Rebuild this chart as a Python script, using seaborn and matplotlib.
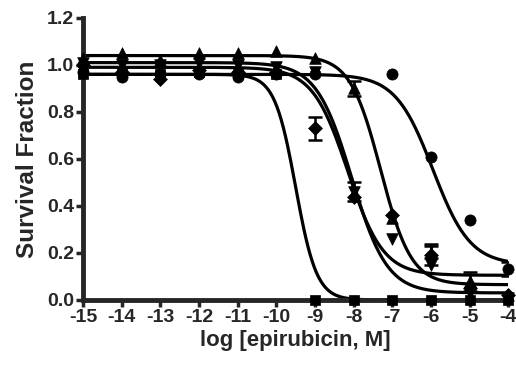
import numpy as np
import pandas as pd
import matplotlib
matplotlib.use("Agg")
import matplotlib.pyplot as plt
import seaborn as sns

# ---- data ----
log_dose = [-15, -14, -13, -12, -11, -10, -9, -8, -7, -6, -5, -4]
circle = [0.97, 0.95, 0.96, 0.96, 0.95, 0.96, 0.96, np.nan, 0.96, 0.61, 0.34, 0.13]
tri_up = [1.03, 1.05, 1.02, 1.05, 1.05, 1.06, 1.03, 0.90, 0.35, 0.20, 0.08, 0.02]
tri_down = [1.01, 1.00, 1.00, 1.01, 1.00, 0.99, 0.97, 0.46, 0.26, 0.15, 0.03, 0.01]
diamond = [1.00, 0.97, 0.94, 0.98, 0.97, 0.97, 0.73, 0.44, 0.36, 0.19, 0.05, 0.02]
square = [0.96, 0.97, 0.96, 0.97, 0.96, 0.96, 0.00, 0.00, 0.00, 0.00, 0.00, 0.00]

# 4-parameter logistic fit parameters: top, bottom, logIC50, hill
fit_names = ["circle", "tri_up", "tri_down", "diamond", "square"]
fit_top = [0.96, 1.04, 1.01, 0.99, 0.96]
fit_bottom = [0.15, 0.065, 0.03, 0.105, 0.0]
fit_logic50 = [-5.95, -7.3, -8.05, -8.15, -9.5]
fit_hill = [0.9, 1.1, 0.95, 0.95, 1.6]

# error bars (x, y, err)
err_x = [-4, -9, -8, -8, -6, -6, -5]
err_y = [0.13, 0.73, 0.46, 0.90, 0.19, 0.21, 0.08]
err_e = [0.03, 0.05, 0.04, 0.03, 0.04, 0.03, 0.04]

# ---- build frames ----
series = {"circle": circle, "tri_up": tri_up, "tri_down": tri_down,
          "diamond": diamond, "square": square}
pts = pd.DataFrame([(k, x, y) for k, v in series.items() for x, y in zip(log_dose, v)],
                   columns=["series", "x", "y"]).dropna()
xs = np.linspace(-15, -4, 400)
rows = []
for n, t, b, c, h in zip(fit_names, fit_top, fit_bottom, fit_logic50, fit_hill):
    ys = b + (t - b) / (1 + 10 ** ((xs - c) * h))
    rows += [(n, xx, yy) for xx, yy in zip(xs, ys)]
curves = pd.DataFrame(rows, columns=["series", "x", "y"])

sns.set_style("ticks")
plt.rcParams["font.family"] = ["Liberation Sans", "DejaVu Sans"]
plt.rcParams["font.weight"] = "bold"
plt.rcParams["axes.unicode_minus"] = False

fig = plt.figure(figsize=(5.16, 3.74), dpi=100)
ax = fig.add_axes([0.161, 0.198, 0.824, 0.754])

black = {n: "black" for n in fit_names}
sns.lineplot(data=curves, x="x", y="y", hue="series", palette=black,
             linewidth=2.3, legend=False, ax=ax, estimator=None, sort=True)
markers = {"circle": "o", "tri_up": "^", "tri_down": "v", "diamond": "D", "square": "s"}
sizes_map = {"circle": 65, "tri_up": 70, "tri_down": 70, "diamond": 50, "square": 55}
for n in fit_names:
    sub = pts[pts.series == n]
    sns.scatterplot(data=sub, x="x", y="y", marker=markers[n], color="black",
                    s=sizes_map[n], edgecolor="black", linewidth=0.5,
                    legend=False, ax=ax, clip_on=False, zorder=5)
for x, y, e in zip(err_x, err_y, err_e):
    ax.errorbar([x], [y], yerr=[e], fmt="none", ecolor="black",
                elinewidth=1.8, capsize=5, capthick=1.8, zorder=4)

ax.set_xlim(-15, -4)
ax.set_ylim(0, 1.2)
ax.set_xticks(log_dose)
ax.set_xticklabels([str(v) for v in log_dose])
ax.set_yticks([0.0, 0.2, 0.4, 0.6, 0.8, 1.0, 1.2])
ax.set_yticklabels(["0.0", "0.2", "0.4", "0.6", "0.8", "1.0", "1.2"])
for sp in ["top", "right"]:
    ax.spines[sp].set_visible(False)
for sp in ["left", "bottom"]:
    ax.spines[sp].set_linewidth(3.5)
ax.tick_params(axis="both", width=2.5, length=5, labelsize=14, pad=1.5)
for lab in ax.get_xticklabels() + ax.get_yticklabels():
    lab.set_fontweight("bold")
ax.set_xlabel("log [epirubicin, M]", fontsize=16, fontweight="bold", labelpad=3)
ax.set_ylabel("Survival Fraction", fontsize=17.5, fontweight="bold", labelpad=6)

fig.savefig("out.png", dpi=100)
